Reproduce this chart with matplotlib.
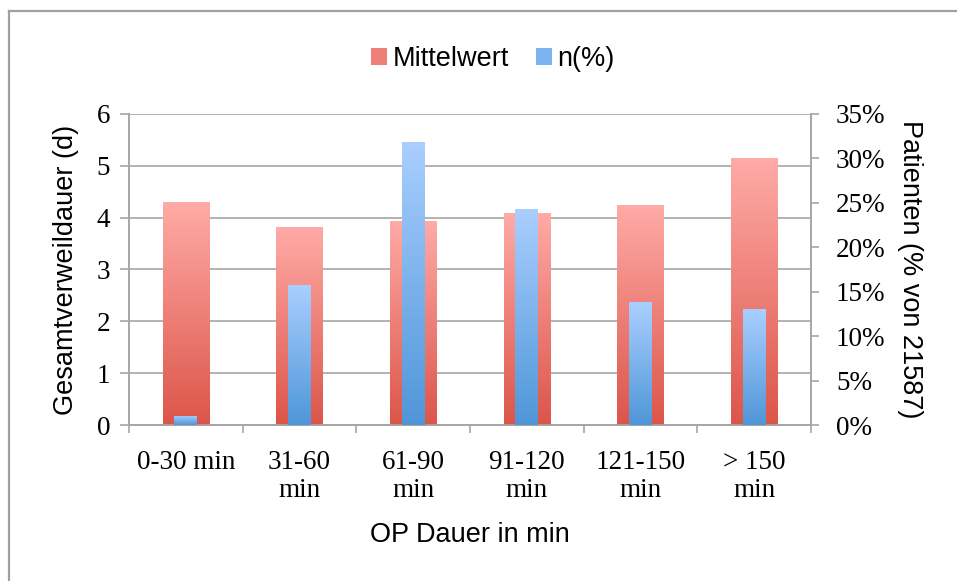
import numpy as np
import matplotlib
matplotlib.use("Agg")
import matplotlib.pyplot as plt
from matplotlib.colors import LinearSegmentedColormap
from matplotlib.lines import Line2D
from matplotlib.patches import Patch

# data
categories = ["0-30 min", "31-60\nmin", "61-90\nmin", "91-120\nmin",
              "121-150\nmin", "> 150\nmin"]
mittelwert = [4.30, 3.82, 3.94, 4.09, 4.25, 5.15]        # days (left axis)
n_percent = [1.05, 15.76, 31.85, 24.3, 13.84, 13.05]     # % of 21587 (right axis)

GRID = "#a6a6a6"
RED_TOP, RED_BOT = "#ffaba7", "#dc5549"
BLUE_TOP, BLUE_BOT = "#aacfff", "#4f96d8"

SANS = "Liberation Sans"
SERIF = "Liberation Serif"


def gradient_bars(ax, bars, top, bottom):
    """Fill each bar with a vertical gradient, light at top, dark at bottom."""
    cmap = LinearSegmentedColormap.from_list("g", [top, bottom])
    grad = np.linspace(0, 1, 256).reshape(-1, 1)
    for b in bars:
        x, y = b.get_x(), b.get_y()
        w, h = b.get_width(), b.get_height()
        b.set_facecolor("none")
        b.set_edgecolor("none")
        im = ax.imshow(grad, cmap=cmap, aspect="auto", origin="upper",
                       extent=[x, x + w, y, y + h], zorder=b.get_zorder(),
                       interpolation="bilinear")
        im.set_clip_path(b)


fig = plt.figure(figsize=(9.57, 5.81), dpi=100)
ax = fig.add_axes([0.1348, 0.2685, 0.7126, 0.5353])
ax2 = ax.twinx()

x = np.arange(len(categories)) + 0.5
red = ax.bar(x, mittelwert, width=0.41, zorder=3)
blue = ax2.bar(x, n_percent, width=0.2, zorder=3)
gradient_bars(ax, red, RED_TOP, RED_BOT)
gradient_bars(ax2, blue, BLUE_TOP, BLUE_BOT)

ax.set_xlim(0, 6)
ax.set_ylim(0, 6)
ax2.set_ylim(0, 35)

# grid + spines
ax.set_axisbelow(True)
ax.yaxis.grid(True, color=GRID, lw=1.2)
for a in (ax, ax2):
    for s in a.spines.values():
        s.set_color(GRID)
        s.set_linewidth(1.2)
    a.spines["top"].set_visible(False)

# left axis
ax.set_yticks(range(7))
ax.tick_params(axis="y", direction="out", length=6.5, width=1.2, color=GRID,
               pad=7, labelsize=19.5)
for t in ax.get_yticklabels():
    t.set_family(SERIF)

# right axis
ax2.set_yticks(range(0, 36, 5))
ax2.set_yticklabels([f"{v}%" for v in range(0, 36, 5)])
ax2.tick_params(axis="y", direction="out", length=6, width=1.2, color=GRID,
                pad=12, labelsize=19.5)
for t in ax2.get_yticklabels():
    t.set_family(SERIF)

# x axis: ticks at the category boundaries, labels centred
ax.set_xticks(range(7))
ax.set_xticklabels([])
ax.set_xticks(x, minor=True)
ax.set_xticklabels(categories, minor=True, family=SERIF, fontsize=19.5,
                   linespacing=1.15, ha="center", va="top")
ax.tick_params(axis="x", which="major", direction="out", length=6, width=1.2,
               color=GRID)
ax.tick_params(axis="x", which="minor", length=0, pad=18)

ax.set_xlabel("OP Dauer in min", family=SANS, fontsize=19.5, labelpad=14)
ax.set_ylabel("Gesamtverweildauer (d)", family=SANS, fontsize=19.5,
              labelpad=13)
ax2.set_ylabel("Patienten (% von 21587)", family=SANS, fontsize=19.5,
               rotation=270, va="bottom", labelpad=8)

handles = [Patch(facecolor="#ec7f76", edgecolor="none"),
           Patch(facecolor="#7db3ee", edgecolor="none")]
fig.legend(handles, ["Mittelwert", "n(%)"], loc="center",
           bbox_to_anchor=(0.515, 0.898), ncol=2, frameon=False,
           prop={"family": SANS, "size": 19.5}, handlelength=0.6,
           handleheight=0.6, handletextpad=0.2, columnspacing=1.0)

# outer frame (left and top edges only are visible in the reference)
fig.add_artist(Line2D([0.0094, 0.0094], [0.0, 0.981], transform=fig.transFigure,
                      color="#a0a0a0", lw=1.6))
fig.add_artist(Line2D([0.0094, 1.0], [0.981, 0.981], transform=fig.transFigure,
                      color="#a0a0a0", lw=1.6))

fig.savefig("out.png", dpi=100)
